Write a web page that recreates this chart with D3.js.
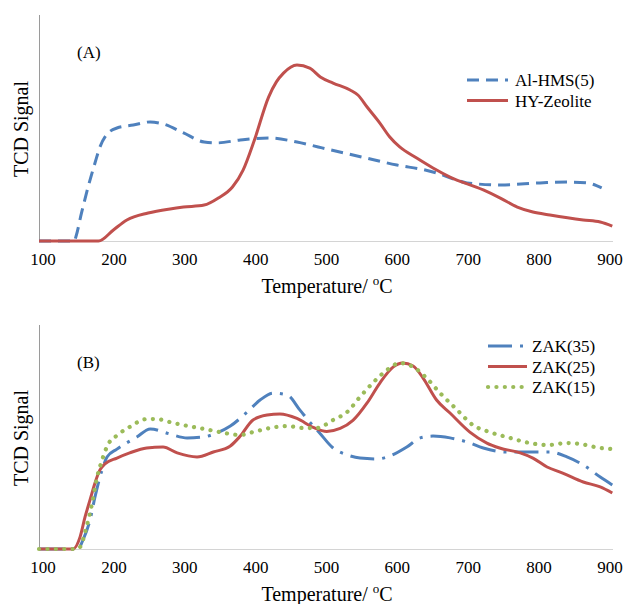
<!DOCTYPE html>
<html>
<head>
<meta charset="utf-8">
<script src="https://cdn.jsdelivr.net/npm/d3@7"></script>
<style>
  html, body { margin: 0; padding: 0; background: #fff; }
  svg { display: block; }
</style>
</head>
<body>
<svg id="chart" width="625" height="604"></svg>
<script>
// Temperature ticks shared by both panels (°C)
const tickTemps = [100, 200, 300, 400, 500, 600, 700, 800, 900];

// Panel (A): TCD signal (arbitrary units, 0–100 of axis height) vs temperature
const alhms5 = [[95,0],[145,0],[147,1.8],[155,12.4],[162,21.2],[174,34.5],[181,41.6],[190,46.9],[205,50.0],[228,51.3],[252,52.7],[270,51.8],[299,47.8],[328,43.8],[346,43.4],[379,44.7],[419,45.6],[459,43.8],[489,41.6],[501,40.7],[550,37.2],[600,33.6],[640,31.4],[656,30.1],[684,27.0],[699,25.7],[746,24.8],[802,25.7],[840,26.1],[868,25.7],[889,23.5]];
const hyZeolite = [[95,0],[179,0],[200,4.9],[219,9.3],[249,12.4],[280,14.2],[299,15.0],[328,15.9],[348,19.0],[368,23.9],[383,31.4],[399,44.7],[419,63.7],[430,70.4],[440,74.3],[459,77.9],[477,76.5],[492,72.6],[510,69.9],[534,66.8],[545,64.6],[558,59.3],[576,52.2],[590,46.0],[604,41.6],[628,36.7],[651,32.3],[675,28.3],[722,22.6],[746,19.0],[770,15.0],[792,12.8],[816,11.5],[863,9.3],[887,8.4],[904,6.6]];

// Panel (B)
const zak35 = [[95,0],[150,0],[157,4.0],[167,12.9],[174,23.2],[184,35.3],[191,41.1],[205,44.6],[233,50.0],[252,53.6],[280,51.3],[304,49.6],[327,50.0],[346,51.8],[365,54.9],[389,61.2],[407,66.5],[425,69.6],[445,68.8],[463,62.1],[477,56.7],[491,51.8],[510,45.1],[530,42.0],[548,40.6],[572,40.2],[590,41.5],[614,45.5],[633,49.6],[651,50.4],[675,49.6],[699,47.8],[722,45.1],[755,43.3],[792,43.3],[816,43.3],[840,41.1],[863,37.5],[887,32.1],[904,28.6]];
const zak25 = [[95,0],[143,0],[153,5.4],[160,14.3],[167,21.9],[174,29.5],[181,35.3],[188,38.0],[205,40.6],[223,42.9],[247,45.1],[270,45.5],[290,42.9],[318,41.1],[341,43.3],[365,46.0],[379,50.4],[397,57.6],[417,59.8],[435,60.3],[459,58.3],[482,54.3],[501,52.5],[520,53.8],[538,57.4],[558,65.2],[576,74.1],[595,81.3],[608,83.0],[623,81.7],[637,76.3],[656,66.5],[675,60.7],[703,52.2],[727,47.3],[745,45.1],[774,42.9],[792,40.6],[812,36.6],[834,33.9],[863,29.9],[887,27.7],[904,25.0]];
const zak15 = [[95,0],[149,0],[153,0.9],[162,9.8],[170,20.5],[177,32.1],[184,39.7],[192,46.4],[206,50.9],[223,54.5],[247,58.0],[261,58.0],[284,56.3],[312,54.5],[336,53.1],[350,52.2],[379,50.9],[397,52.2],[421,54.0],[445,54.9],[468,54.0],[487,54.0],[510,57.6],[530,61.2],[548,67.9],[566,74.1],[586,79.9],[604,83.0],[623,81.3],[642,76.3],[661,69.6],[685,62.1],[707,55.4],[731,52.2],[755,50.0],[788,47.3],[812,46.4],[840,47.3],[858,46.9],[887,45.1],[904,44.6]];

const seriesA = [
  { name: "Al-HMS(5)", data: alhms5, color: "#4f81bd", width: 3, dash: "12,7", cap: "butt" },
  { name: "HY-Zeolite", data: hyZeolite, color: "#c0504d", width: 3, dash: null, cap: "butt" }
];
const seriesB = [
  { name: "ZAK(35)", data: zak35, color: "#4f81bd", width: 3, dash: "24,8,3,8", cap: "butt" },
  { name: "ZAK(25)", data: zak25, color: "#c0504d", width: 3, dash: null, cap: "butt" },
  { name: "ZAK(15)", data: zak15, color: "#9bbb59", width: 4.2, dash: "0.1,8.3", cap: "round" }
];

const SERIF = '"Liberation Serif", Tinos, "Times New Roman", "DejaVu Serif", serif';

const svg = d3.select("#chart");
const x = d3.scaleLinear().domain([95, 905]).range([39, 613]);

function label(g, size) {
  return g.append("text").attr("font-family", SERIF).attr("font-size", size).attr("fill", "#000");
}

function drawPanel(cfg) {
  const y = d3.scaleLinear().domain([0, 100]).range([cfg.bottom, cfg.top]);
  const g = svg.append("g");

  // axis lines
  g.append("line").attr("x1", 39.5).attr("x2", 39.5).attr("y1", cfg.top).attr("y2", cfg.bottom)
    .attr("stroke", "#9a9a9a").attr("stroke-width", 1);
  g.append("line").attr("x1", 39).attr("x2", 613).attr("y1", cfg.bottom + 0.5).attr("y2", cfg.bottom + 0.5)
    .attr("stroke", "#d4d4d4").attr("stroke-width", 1);

  // tick labels
  const ax = g.append("g").attr("transform", `translate(0,${cfg.bottom})`)
    .call(d3.axisBottom(x).tickValues(tickTemps).tickSize(0).tickPadding(12).tickFormat(d3.format("d")));
  ax.attr("font-family", SERIF).attr("font-size", 17);
  ax.select(".domain").remove();
  ax.selectAll("text").attr("font-family", SERIF).attr("font-size", 17).attr("fill", "#000");

  // curves
  const line = d3.line().x(d => x(d[0])).y(d => y(d[1])).curve(d3.curveMonotoneX);
  cfg.series.forEach(s => {
    g.append("path").datum(s.data).attr("d", line)
      .attr("fill", "none").attr("stroke", s.color).attr("stroke-width", s.width)
      .attr("stroke-linecap", s.cap).attr("stroke-linejoin", "round")
      .attr("stroke-dasharray", s.dash);
  });

  // legend
  cfg.series.forEach((s, i) => {
    const ly = cfg.legendY + i * cfg.legendStep;
    g.append("line").attr("x1", cfg.legendX1).attr("x2", cfg.legendX2).attr("y1", ly).attr("y2", ly)
      .attr("stroke", s.color).attr("stroke-width", s.width).attr("stroke-linecap", s.cap)
      .attr("stroke-dasharray", s.dash);
    label(g, 17).attr("x", cfg.legendTextX).attr("y", ly + 6).text(s.name);
  });

  // panel label
  label(g, 17).attr("x", 77).attr("y", cfg.top + 43).text(cfg.label);

  // axis titles
  label(g, 20).attr("transform", `translate(28,${(cfg.top + cfg.bottom) / 2 + 1}) rotate(-90)`)
    .attr("text-anchor", "middle").text("TCD Signal");
  const t = label(g, 20).attr("x", 327).attr("y", cfg.bottom + 52).attr("text-anchor", "middle");
  t.append("tspan").text("Temperature/ ");
  t.append("tspan").attr("dy", -8).attr("font-size", 13).text("o");
  t.append("tspan").attr("dy", 8).text("C");
}

drawPanel({ top: 15, bottom: 241, series: seriesA, label: "(A)",
  legendY: 80, legendStep: 20.5, legendX1: 467, legendX2: 508, legendTextX: 515 });
drawPanel({ top: 325, bottom: 549, series: seriesB, label: "(B)",
  legendY: 346, legendStep: 20.5, legendX1: 488, legendX2: 527, legendTextX: 532 });
</script>
</body>
</html>
